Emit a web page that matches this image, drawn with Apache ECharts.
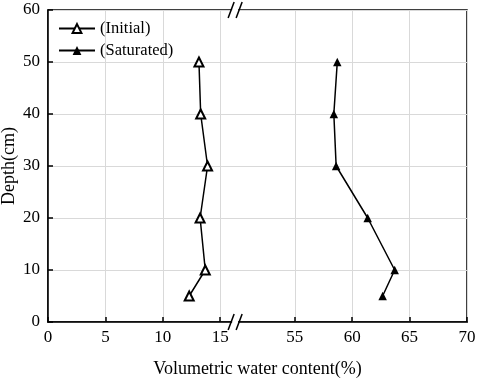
<!DOCTYPE html>
<html>
<head>
<meta charset="utf-8">
<script src="https://cdn.jsdelivr.net/npm/echarts@6/dist/echarts.min.js"></script>
<style>
  html, body { margin: 0; padding: 0; background: #fff; }
  #main { width: 477px; height: 379px; }
</style>
</head>
<body>
<div id="main"></div>
<script>
// depth (cm) and volumetric water content (%)
var depths = [5, 10, 20, 30, 40, 50];
var initialVals = [12.3, 13.7, 13.25, 13.9, 13.3, 13.15];
var saturatedVals = [62.65, 63.7, 61.35, 58.6, 58.4, 58.7];
var xTickLabels = [0, 5, 10, 15, 55, 60, 65, 70];
var yTickLabels = [0, 10, 20, 30, 40, 50, 60];

// broken x axis: 15..55 is cut out and replaced by a small gap
var BREAK_LO = 15, BREAK_HI = 55, GAP = 6.5;
function toAxis(v) {
  return v <= BREAK_LO ? v : v - BREAK_HI + BREAK_LO + GAP;
}
function fromAxis(d) {
  return d <= BREAK_LO + 0.01 ? d : d - BREAK_LO - GAP + BREAK_HI;
}

var xTickPos = xTickLabels.map(toAxis);
var serif = "Liberation Serif";

function pairs(vals) {
  return vals.map(function (v, i) {
    return [toAxis(v), depths[i]];
  });
}

var chart = echarts.init(document.getElementById("main"));
chart.setOption({
  animation: false,
  grid: {
    left: 48, right: 10, top: 10, bottom: 57,
    outerBoundsMode: "none",
    containLabel: false,
    show: true, borderColor: "#000", borderWidth: 1.5
  },
  legend: {
    orient: "vertical",
    left: 58, top: 20, padding: 0,
    itemWidth: 36, itemHeight: 11, itemGap: 5,
    textStyle: { fontFamily: serif, fontSize: 16.5, color: "#000" },
    data: ["(Initial)", "(Saturated)"]
  },
  xAxis: {
    type: "value",
    min: 0, max: toAxis(70),
    name: "Volumetric water content(%)",
    nameLocation: "middle", nameGap: 38,
    nameTextStyle: { fontFamily: serif, fontSize: 18, color: "#000" },
    axisLine: { lineStyle: { color: "#000", width: 1.5 } },
    axisTick: { inside: true, length: 5, customValues: xTickPos, lineStyle: { color: "#000", width: 1.5 } },
    axisLabel: {
      customValues: xTickPos,
      fontFamily: serif, fontSize: 17, color: "#000", margin: 7,
      formatter: function (d) { return String(Math.round(fromAxis(d))); }
    },
    splitLine: { show: true, lineStyle: { color: "#d9d9d9", width: 1 } }
  },
  yAxis: {
    type: "value",
    min: 0, max: 60, interval: 10,
    name: "Depth(cm)",
    nameLocation: "middle", nameGap: 30,
    nameMoveOverlap: false,
    nameTextStyle: { fontFamily: serif, fontSize: 18, color: "#000" },
    axisLine: { lineStyle: { color: "#000", width: 1.5 } },
    axisTick: { inside: true, length: 5, lineStyle: { color: "#000", width: 1.5 } },
    axisLabel: { fontFamily: serif, fontSize: 17, color: "#000", margin: 8 },
    splitLine: { show: true, lineStyle: { color: "#d9d9d9", width: 1 } }
  },
  series: [
    {
      name: "(Initial)",
      type: "line",
      data: pairs(initialVals),
      symbol: "emptyTriangle",
      symbolSize: 9,
      itemStyle: { color: "#000", borderWidth: 1 },
      lineStyle: { color: "#000", width: 1.5 }
    },
    {
      name: "(Saturated)",
      type: "line",
      data: pairs(saturatedVals),
      symbol: "triangle",
      symbolSize: 8.5,
      itemStyle: { color: "#000" },
      lineStyle: { color: "#000", width: 1.5 }
    }
  ]
});

// break marks "//" on top and bottom frame lines
var bx = chart.convertToPixel({ xAxisIndex: 0 }, BREAK_LO + 1.3);
var yBottom = chart.convertToPixel({ yAxisIndex: 0 }, 0);
var yTop = chart.convertToPixel({ yAxisIndex: 0 }, 60);
function breakMark(yc) {
  return [
    { type: "rect", shape: { x: bx - 3, y: yc - 2, width: 6, height: 4 }, style: { fill: "#fff" }, z: 100 },
    { type: "line", shape: { x1: bx - 7, y1: yc + 8, x2: bx - 1, y2: yc - 8 }, style: { stroke: "#000", lineWidth: 1.5 }, z: 101 },
    { type: "line", shape: { x1: bx + 1, y1: yc + 8, x2: bx + 7, y2: yc - 8 }, style: { stroke: "#000", lineWidth: 1.5 }, z: 101 }
  ];
}
chart.setOption({ graphic: breakMark(yBottom).concat(breakMark(yTop)) });
</script>
</body>
</html>
